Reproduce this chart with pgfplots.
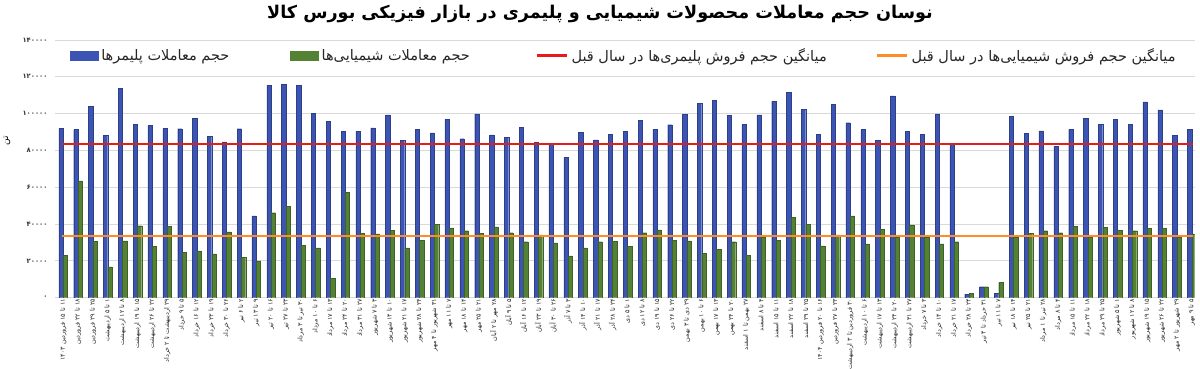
\documentclass[border=0pt]{standalone}
\usepackage{fontspec}
\usepackage{pgfplots}
\usepackage{pgfplotstable}
\pgfplotsset{compat=1.18}
\TeXXeTstate=1
\setmainfont{DejaVu Sans}
\newfontfamily\arabicfont[Script=Arabic]{DejaVu Sans}
\newcommand{\RL}[1]{\beginR #1\endR}
\definecolor{cblue}{RGB}{60,84,180}
\definecolor{cgreen}{RGB}{84,130,53}
\definecolor{cred}{RGB}{228,28,28}
\definecolor{corange}{RGB}{255,140,40}
\definecolor{cgrid}{RGB}{217,217,217}

\pgfplotstableread{
x poly chem
0 92000 23100
1 91300 63500
2 104000 30500
3 88200 16700
4 113800 30900
5 94200 39100
6 93500 27800
7 92000 38700
8 91800 24700
9 97600 25500
10 87500 23800
11 84700 35800
12 91800 22000
13 44500 20000
14 115500 46200
15 115800 49500
16 115500 28500
17 100200 27100
18 95800 10700
19 90500 57100
20 90400 35100
21 92200 34700
22 99300 36700
23 85500 27100
24 91500 31100
25 89600 39800
26 96900 38000
27 86400 36400
28 99800 34900
29 88500 38500
30 87100 35300
31 92500 30400
32 84400 34200
33 84000 29800
34 76200 22700
35 89800 27100
36 85800 30400
37 88900 30700
38 90500 28000
39 96400 35300
40 91600 36900
41 94000 31100
42 99500 30900
43 105600 24200
44 107100 26400
45 99100 30400
46 94200 23100
47 99300 32900
48 106700 31100
49 111600 43800
50 102400 39800
51 88700 28200
52 105100 34200
53 95100 44400
54 91300 29300
55 85500 37100
56 109600 33100
57 90400 39500
58 88700 33100
59 99800 29300
60 83600 30400
61 2000 2500
62 6000 6000
63 2500 8200
64 98500 33100
65 89300 35100
66 90700 36400
67 82200 35300
68 91500 38900
69 97500 33100
70 94200 38400
71 96900 36500
72 94200 36400
73 106400 37800
74 102000 37800
75 88200 33100
76 91500 34700
}\data

\begin{document}
\begin{tikzpicture}
\begin{axis}[
  at={(55pt,70.3pt)}, anchor=south west,
  scale only axis, width=1139.7pt, height=257.7pt,
  xmin=-0.55, xmax=76.2, ymin=0, ymax=140000,
  axis line style={draw=none}, tick style={draw=none},
  ymajorgrids, grid style={cgrid, line width=0.8pt},
  ytick={0,20000,40000,60000,80000,100000,120000,140000},
  yticklabels={۰,۲۰۰۰۰,۴۰۰۰۰,۶۰۰۰۰,۸۰۰۰۰,۱۰۰۰۰۰,۱۲۰۰۰۰,۱۴۰۰۰۰},
  yticklabel style={font=\arabicfont\bfseries\fontsize{6.8}{7}\selectfont, text=black!80, xshift=-4pt},
  scaled y ticks=false,
  xtick={0,...,76},
  xticklabels={
\RL{۱۱ تا ۱۵ فروردین ۱۴۰۳},\RL{۱۸ تا ۲۲ فروردین},\RL{۲۵ تا ۲۹ فروردین},\RL{۱ تا ۵ اردیبهشت},\RL{۸ تا ۱۲ اردیبهشت},
\RL{۱۵ تا ۱۹ اردیبهشت},\RL{۲۲ تا ۲۶ اردیبهشت},\RL{۲۹ اردیبهشت تا ۲ خرداد},\RL{۵ تا ۹ خرداد},\RL{۱۲ تا ۱۶ خرداد},
\RL{۱۹ تا ۲۳ خرداد},\RL{۲۶ تا ۳۰ خرداد},\RL{۲ تا ۶ تیر},\RL{۹ تا ۱۳ تیر},\RL{۱۶ تا ۲۰ تیر},
\RL{۲۳ تا ۲۷ تیر},\RL{۳۰ تیر تا ۳ مرداد},\RL{۶ تا ۱۰ مرداد},\RL{۱۳ تا ۱۷ مرداد},\RL{۲۰ تا ۲۴ مرداد},
\RL{۲۷ تا ۳۱ مرداد},\RL{۳ تا ۷ شهریور},\RL{۱۰ تا ۱۴ شهریور},\RL{۱۷ تا ۲۱ شهریور},\RL{۲۴ تا ۲۸ شهریور},
\RL{۳۱ شهریور تا ۴ مهر},\RL{۷ تا ۱۱ مهر},\RL{۱۴ تا ۱۸ مهر},\RL{۲۱ تا ۲۵ مهر},\RL{۲۸ مهر تا ۲ آبان},
\RL{۵ تا ۹ آبان},\RL{۱۲ تا ۱۶ آبان},\RL{۱۹ تا ۲۳ آبان},\RL{۲۶ تا ۳۰ آبان},\RL{۳ تا ۷ آذر},
\RL{۱۰ تا ۱۴ آذر},\RL{۱۷ تا ۲۱ آذر},\RL{۲۴ تا ۲۸ آذر},\RL{۱ تا ۵ دی},\RL{۸ تا ۱۲ دی},
\RL{۱۵ تا ۱۹ دی},\RL{۲۲ تا ۲۶ دی},\RL{۲۹ دی تا ۳ بهمن},\RL{۶ تا ۱۰ بهمن},\RL{۱۳ تا ۱۷ بهمن},
\RL{۲۰ تا ۲۴ بهمن},\RL{۲۷ بهمن تا ۱ اسفند},\RL{۴ تا ۸ اسفند},\RL{۱۱ تا ۱۵ اسفند},\RL{۱۸ تا ۲۲ اسفند},
\RL{۲۵ تا ۲۹ اسفند},\RL{۱۶ تا ۲۰ فروردین ۱۴۰۴},\RL{۲۳ تا ۲۷ فروردین},\RL{۳۰ فروردین تا ۳ اردیبهشت},\RL{۶ تا ۱۰ اردیبهشت},
\RL{۱۳ تا ۱۷ اردیبهشت},\RL{۲۰ تا ۲۴ اردیبهشت},\RL{۲۷ تا ۳۱ اردیبهشت},\RL{۳ تا ۷ خرداد},\RL{۱۰ تا ۱۴ خرداد},
\RL{۱۷ تا ۲۱ خرداد},\RL{۲۴ تا ۲۸ خرداد},\RL{۳۱ خرداد تا ۴ تیر},\RL{۷ تا ۱۱ تیر},\RL{۱۴ تا ۱۸ تیر},
\RL{۲۱ تا ۲۵ تیر},\RL{۲۸ تیر تا ۱ مرداد},\RL{۴ تا ۸ مرداد},\RL{۱۱ تا ۱۵ مرداد},\RL{۱۸ تا ۲۲ مرداد},
\RL{۲۵ تا ۲۹ مرداد},\RL{۱ تا ۵ شهریور},\RL{۸ تا ۱۲ شهریور},\RL{۱۵ تا ۱۹ شهریور},\RL{۲۲ تا ۲۶ شهریور},
\RL{۲۹ شهریور تا ۲ مهر},\RL{۵ تا ۹ مهر}},
  xticklabel style={font=\arabicfont\fontsize{6.4}{7}\selectfont, text=black!85, rotate=90, anchor=east, inner sep=1pt},
  legend style={at={(0.01317,0.938)}, anchor=west, draw=none, fill=none,
    inner sep=0pt, outer sep=0pt, column sep=0pt,
    nodes={inner sep=0pt, outer sep=0pt, font=\arabicfont\fontsize{14.5}{16}\selectfont, text=black!85}},
  legend columns=4, legend cell align=left,
]
\addplot[ybar, bar width=4.3pt, bar shift=-2.15pt, fill=cblue, draw=cblue!75!black, line width=0.3pt,
  legend image code/.code={\fill[cblue] (0pt,-4.5pt) rectangle (28pt,4.5pt);}]
  table[x=x, y=poly] {\data};
\addlegendentry{\makebox[192pt][l]{\hspace{3pt}\RL{حجم معاملات پلیمرها}}}
\addplot[ybar, bar width=4.3pt, bar shift=2.15pt, fill=cgreen, draw=cgreen!75!black, line width=0.3pt,
  legend image code/.code={\fill[cgreen] (0pt,-4.5pt) rectangle (28pt,4.5pt);}]
  table[x=x, y=chem] {\data};
\addlegendentry{\makebox[217pt][l]{\hspace{3pt}\RL{حجم معاملات شیمیایی‌ها}}}
\addplot[cred, line width=2pt, sharp plot,
  legend image code/.code={\draw[cred, line width=3pt] (0pt,0pt) -- (30pt,0pt);}]
  coordinates {(-0.1,83600) (76.1,83600)};
\addlegendentry{\makebox[307pt][l]{\hspace{3pt}\RL{میانگین حجم فروش پلیمری‌ها در سال قبل}}}
\addplot[corange, line width=2pt, sharp plot,
  legend image code/.code={\draw[corange, line width=3pt] (0pt,0pt) -- (30pt,0pt);}]
  coordinates {(-0.1,33300) (76.1,33300)};
\addlegendentry{\makebox[270pt][l]{\hspace{3pt}\RL{میانگین حجم فروش شیمیایی‌ها در سال قبل}}}
\end{axis}
\node[font=\arabicfont\bfseries\fontsize{17.6}{20}\selectfont] at (600pt,354pt) {\RL{نوسان حجم معاملات محصولات شیمیایی و پلیمری در بازار فیزیکی بورس کالا}};
\node[rotate=90, font=\arabicfont\fontsize{9}{9}\selectfont] at (7pt,227pt) {\RL{تن}};
\pgfresetboundingbox
\path[use as bounding box] (0pt,0pt) rectangle (1200pt,368pt);
\end{tikzpicture}
\end{document}
